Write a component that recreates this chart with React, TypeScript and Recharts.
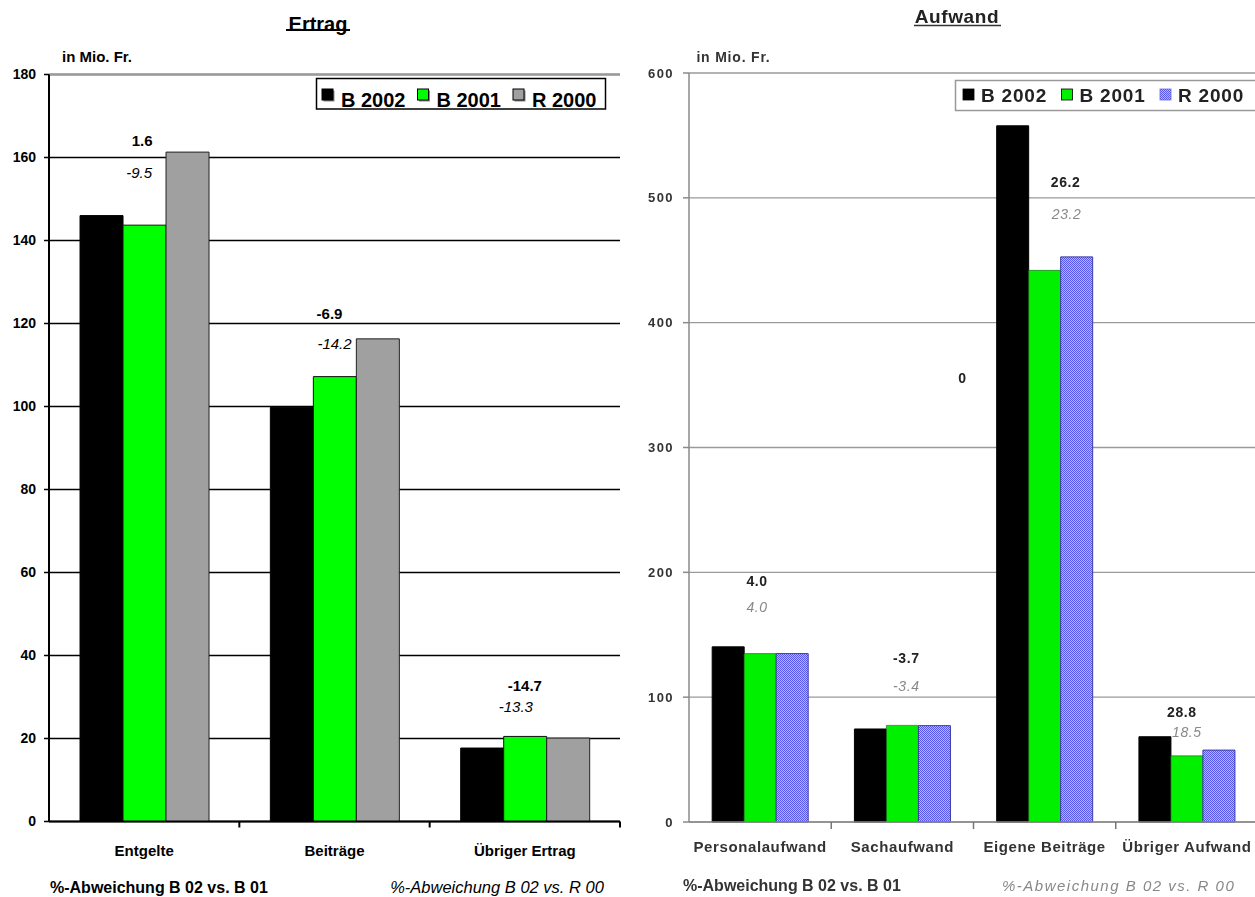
import React from 'react';
import { BarChart, Bar, XAxis, YAxis, CartesianGrid, ReferenceDot, ReferenceLine } from 'recharts';

const FONT = "'Liberation Sans', Arial, Helvetica, sans-serif";

// ---------- data: Ertrag (in Mio. Fr.) ----------
const ertragCategories = ['Entgelte', 'Beiträge', 'Übriger Ertrag'];
const ertragB2002 = [146.0, 99.8, 17.7];
const ertragB2001 = [143.7, 107.2, 20.5];
const ertragR2000 = [161.3, 116.3, 20.1];
const ertragVsB01 = ['1.6', '-6.9', '-14.7'];
const ertragVsR00 = ['-9.5', '-14.2', '-13.3'];
const ertragTicks = [0, 20, 40, 60, 80, 100, 120, 140, 160, 180];

// ---------- data: Aufwand (in Mio. Fr.) ----------
const aufwandCategories = ['Personalaufwand', 'Sachaufwand', 'Eigene Beiträge', 'Übriger Aufwand'];
const aufwandB2002 = [140.3, 74.5, 557.7, 68.3];
const aufwandB2001 = [134.9, 77.4, 441.9, 53.0];
const aufwandR2000 = [134.9, 77.2, 452.7, 57.6];
const aufwandVsB01 = ['4.0', '-3.7', '26.2', '28.8'];
const aufwandVsR00 = ['4.0', '-3.4', '23.2', '18.5'];
const aufwandTicks = [0, 100, 200, 300, 400, 500, 600];

const seriesNames = ['B 2002', 'B 2001', 'R 2000'];

// ---------- annotation placement (axis units / pixel nudges) ----------
const ertragNoteLevelB01 = [164.1, 122.5, 32.7];
const ertragNoteLevelR00 = [156.3, 115.1, 27.8];
const ertragNoteDxB01 = [-2, -5, 0];
const ertragNoteDxR00 = [-5, 0, -9];

const aufwandNoteLevelB01 = [193, 131.4, 513, 88.4];
const aufwandNoteLevelR00 = [172, 109, 487, 72.4];
const aufwandNoteDxB01 = [-3, 4, 21, -5];
const aufwandNoteDxR00 = [-3, 4, 22, 0];

// ---------- layout ----------
const PAGE_W = 1255;
const PAGE_H = 897;

const L_W = 630;
const L_PLOT_L = 49;
const L_PLOT_R = 620;
const L_PLOT_T = 74.5;
const L_PLOT_B = 821.5;
const L_YAXIS_W = 45;
const L_XAXIS_H = 40;
const L_BAND = (L_PLOT_R - L_PLOT_L) / ertragCategories.length;

const R_X = 630;
const R_W = 640;
const R_PLOT_L = 59;
const R_PLOT_R = 628;
const R_PLOT_T = 73;
const R_PLOT_B = 822;
const R_YAXIS_W = 50;
const R_XAXIS_H = 40;
const R_BAND = (R_PLOT_R - R_PLOT_L) / aufwandCategories.length;

const ertragRows = ertragCategories.map((cat, i) => ({
  cat,
  b2002: ertragB2002[i],
  b2001: ertragB2001[i],
  r2000: ertragR2000[i],
}));

const aufwandRows = aufwandCategories.map((cat, i) => ({
  cat,
  b2002: aufwandB2002[i],
  b2001: aufwandB2001[i],
  r2000: aufwandR2000[i],
}));

type TickCfg = {
  band: number;
  count: number;
  tickLen: number;
  tickStroke: string;
  tickWidth: number;
  baseline: number;
  style: React.CSSProperties;
};

// category label at band centre, tick marks at band boundaries
const categoryTick = (cfg: TickCfg) => (props: any) => {
  const { x, y, payload, index } = props;
  const h = cfg.band / 2;
  return (
    <g>
      {index > 0 && (
        <line x1={x - h} x2={x - h} y1={y} y2={y + cfg.tickLen} stroke={cfg.tickStroke} strokeWidth={cfg.tickWidth} />
      )}
      {index === cfg.count - 1 && (
        <line x1={x + h} x2={x + h} y1={y} y2={y + cfg.tickLen} stroke={cfg.tickStroke} strokeWidth={cfg.tickWidth} />
      )}
      <text x={x} y={y + cfg.baseline} textAnchor="middle" style={cfg.style}>
        {payload.value}
      </text>
    </g>
  );
};

const noteShape = (text: string, dx: number, style: React.CSSProperties) => (p: any) => (
  <text x={p.cx + dx} y={p.cy} textAnchor="middle" dominantBaseline="central" style={style}>
    {text}
  </text>
);

const ertragFill = ['#000000', '#00ff00', '#a0a0a0'];
const ertragStroke = ['#000000', '#111111', '#222222'];

const aufwandFill = ['#000000', '#00f000', 'url(#aufwandDots)'];
const aufwandStroke = ['#000000', '#1a5a1a', '#3a3aa0'];

function ErtragChart() {
  const boldNote: React.CSSProperties = { fontFamily: FONT, fontSize: 15, fontWeight: 700, fill: '#000' };
  const italNote: React.CSSProperties = { fontFamily: FONT, fontSize: 15, fontStyle: 'italic', fill: '#000' };
  return (
    <BarChart
      width={L_W}
      height={PAGE_H}
      data={ertragRows}
      barGap={0}
      barCategoryGap="16.3%"
      margin={{ top: L_PLOT_T, right: L_W - L_PLOT_R, bottom: PAGE_H - L_PLOT_B - L_XAXIS_H, left: L_PLOT_L - L_YAXIS_W }}
    >
      <CartesianGrid vertical={false} stroke="#000" strokeWidth={1.5} />
      <XAxis
        dataKey="cat"
        height={L_XAXIS_H}
        interval={0}
        tickLine={false}
        tickSize={0}
        tickMargin={0}
        axisLine={{ stroke: '#000', strokeWidth: 2 }}
        tick={categoryTick({
          band: L_BAND,
          count: ertragCategories.length,
          tickLen: 6,
          tickStroke: '#000',
          tickWidth: 2,
          baseline: 34,
          style: { fontFamily: FONT, fontSize: 15, fontWeight: 700, fill: '#000' },
        })}
      />
      <YAxis
        width={L_YAXIS_W}
        domain={[0, 180]}
        ticks={ertragTicks}
        interval={0}
        tickSize={5}
        tickMargin={8}
        axisLine={{ stroke: '#000', strokeWidth: 2 }}
        tickLine={{ stroke: '#000', strokeWidth: 1.5 }}
        tick={{ fontFamily: FONT, fontSize: 14, fontWeight: 700, fill: '#000' }}
      />
      <YAxis
        yAxisId="frame"
        orientation="right"
        width={0}
        domain={[0, 180]}
        tick={false}
        tickLine={false}
        axisLine={{ stroke: '#9a9a9a', strokeWidth: 2 }}
      />
      <ReferenceLine y={180} stroke="#9a9a9a" strokeWidth={2} />
      <Bar dataKey="b2002" name={seriesNames[0]} fill={ertragFill[0]} stroke={ertragStroke[0]} strokeWidth={1} isAnimationActive={false} />
      <Bar dataKey="b2001" name={seriesNames[1]} fill={ertragFill[1]} stroke={ertragStroke[1]} strokeWidth={1} isAnimationActive={false} />
      <Bar dataKey="r2000" name={seriesNames[2]} fill={ertragFill[2]} stroke={ertragStroke[2]} strokeWidth={1} isAnimationActive={false} />
      {ertragCategories.map((c, i) => (
        <ReferenceDot key={'b' + c} x={c} y={ertragNoteLevelB01[i]} r={0} shape={noteShape(ertragVsB01[i], ertragNoteDxB01[i], boldNote)} />
      ))}
      {ertragCategories.map((c, i) => (
        <ReferenceDot key={'r' + c} x={c} y={ertragNoteLevelR00[i]} r={0} shape={noteShape(ertragVsR00[i], ertragNoteDxR00[i], italNote)} />
      ))}
    </BarChart>
  );
}

function AufwandChart() {
  const boldNote: React.CSSProperties = { fontFamily: FONT, fontSize: 14, fontWeight: 700, fill: '#222', letterSpacing: 0.6 };
  const italNote: React.CSSProperties = { fontFamily: FONT, fontSize: 14, fontStyle: 'italic', fill: '#888', letterSpacing: 0.6 };
  return (
    <BarChart
      width={R_W}
      height={PAGE_H}
      data={aufwandRows}
      barGap={0}
      barCategoryGap="16.3%"
      margin={{ top: R_PLOT_T, right: R_W - R_PLOT_R, bottom: PAGE_H - R_PLOT_B - R_XAXIS_H, left: R_PLOT_L - R_YAXIS_W }}
    >
      <defs>
        <pattern id="aufwandDots" width="2" height="2" patternUnits="userSpaceOnUse">
          <rect width="2" height="2" fill="#b8b8ff" />
          <rect width="1" height="1" fill="#5656ee" />
          <rect x="1" y="1" width="1" height="1" fill="#5656ee" />
        </pattern>
      </defs>
      <CartesianGrid vertical={false} stroke="#9a9a9a" strokeWidth={1.3} />
      <XAxis
        dataKey="cat"
        height={R_XAXIS_H}
        interval={0}
        tickLine={false}
        tickSize={0}
        tickMargin={0}
        axisLine={{ stroke: '#8a8a8a', strokeWidth: 1.5 }}
        tick={categoryTick({
          band: R_BAND,
          count: aufwandCategories.length,
          tickLen: 7,
          tickStroke: '#777',
          tickWidth: 1.5,
          baseline: 30,
          style: { fontFamily: FONT, fontSize: 15, fontWeight: 700, fill: '#333', letterSpacing: 0.6 },
        })}
      />
      <YAxis
        width={R_YAXIS_W}
        domain={[0, 600]}
        ticks={aufwandTicks}
        interval={0}
        tickSize={6}
        tickMargin={9}
        axisLine={{ stroke: '#8a8a8a', strokeWidth: 1.5 }}
        tickLine={{ stroke: '#8a8a8a', strokeWidth: 1.5 }}
        tick={{ fontFamily: FONT, fontSize: 13, fontWeight: 700, fill: '#333', letterSpacing: 1.4 }}
      />
      <Bar dataKey="b2002" name={seriesNames[0]} fill={aufwandFill[0]} stroke={aufwandStroke[0]} strokeWidth={1} isAnimationActive={false} />
      <Bar dataKey="b2001" name={seriesNames[1]} fill={aufwandFill[1]} stroke={aufwandStroke[1]} strokeWidth={0.6} isAnimationActive={false} />
      <Bar dataKey="r2000" name={seriesNames[2]} fill={aufwandFill[2]} stroke={aufwandStroke[2]} strokeWidth={1} isAnimationActive={false} />
      {aufwandCategories.map((c, i) => (
        <ReferenceDot key={'b' + c} x={c} y={aufwandNoteLevelB01[i]} r={0} shape={noteShape(aufwandVsB01[i], aufwandNoteDxB01[i], boldNote)} />
      ))}
      {aufwandCategories.map((c, i) => (
        <ReferenceDot key={'r' + c} x={c} y={aufwandNoteLevelR00[i]} r={0} shape={noteShape(aufwandVsR00[i], aufwandNoteDxR00[i], italNote)} />
      ))}
      <ReferenceDot x={aufwandCategories[1]} y={355.8} r={0} shape={noteShape('0', 60, boldNote)} />
    </BarChart>
  );
}

function ErtragOverlay() {
  const pitch = 95.5;
  return (
    <svg width={L_W} height={PAGE_H} style={{ position: 'absolute', left: 0, top: 0, pointerEvents: 'none' }}>
      <text x={318} y={31} textAnchor="middle" style={{ fontFamily: FONT, fontSize: 20, fontWeight: 700 }} fill="#000">
        Ertrag
      </text>
      <line x1={286} x2={350} y1={30} y2={30} stroke="#000" strokeWidth={2} />
      <text x={97} y={62} textAnchor="middle" style={{ fontFamily: FONT, fontSize: 15, fontWeight: 700 }} fill="#000">
        in Mio. Fr.
      </text>
      <rect x={316.5} y={78.5} width={289} height={30.5} fill="#fff" stroke="#000" strokeWidth={1.5} />
      {seriesNames.map((name, i) => (
        <g key={name}>
          <rect x={323.5 + i * pitch} y={90.5} width={11} height={11} fill="#888" />
          <rect x={322 + i * pitch} y={89} width={11} height={11} fill={ertragFill[i]} stroke="#000" strokeWidth={1} />
          <text x={341 + i * pitch} y={107} style={{ fontFamily: FONT, fontSize: 20, fontWeight: 700 }} fill="#000">
            {name}
          </text>
        </g>
      ))}
      <text x={50} y={893} style={{ fontFamily: FONT, fontSize: 16, fontWeight: 700 }} fill="#000">
        %-Abweichung B 02 vs. B 01
      </text>
      <text x={497} y={893} textAnchor="middle" style={{ fontFamily: FONT, fontSize: 16.5, fontStyle: 'italic' }} fill="#000">
        %-Abweichung B 02 vs. R 00
      </text>
    </svg>
  );
}

function AufwandOverlay() {
  const pitch = 98.5;
  const ox = R_X;
  return (
    <svg width={R_W} height={PAGE_H} style={{ position: 'absolute', left: 0, top: 0, pointerEvents: 'none' }}>
      <defs>
        <pattern id="legendDots" width="2" height="2" patternUnits="userSpaceOnUse">
          <rect width="2" height="2" fill="#b8b8ff" />
          <rect width="1" height="1" fill="#5656ee" />
          <rect x="1" y="1" width="1" height="1" fill="#5656ee" />
        </pattern>
      </defs>
      <text x={957 - ox} y={23} textAnchor="middle" style={{ fontFamily: FONT, fontSize: 19, fontWeight: 700, letterSpacing: 0.6 }} fill="#222">
        Aufwand
      </text>
      <line x1={914 - ox} x2={1001 - ox} y1={25.5} y2={25.5} stroke="#333" strokeWidth={1.5} />
      <text x={733.5 - ox} y={62} textAnchor="middle" style={{ fontFamily: FONT, fontSize: 14, fontWeight: 700, letterSpacing: 0.8 }} fill="#333">
        in Mio. Fr.
      </text>
      <rect x={955.5 - ox} y={80.5} width={320} height={30} fill="#fff" stroke="#999" strokeWidth={1.5} />
      {seriesNames.map((name, i) => (
        <g key={name}>
          <rect
            x={963 - ox + i * pitch}
            y={89}
            width={11}
            height={11}
            fill={i === 2 ? 'url(#legendDots)' : aufwandFill[i]}
            stroke={i === 2 ? '#6a6ad0' : '#000'}
            strokeWidth={0.8}
          />
          <text x={981 - ox + i * pitch} y={102} style={{ fontFamily: FONT, fontSize: 19, fontWeight: 700, letterSpacing: 0.8 }} fill="#222">
            {name}
          </text>
        </g>
      ))}
      <text x={683 - ox} y={891} style={{ fontFamily: FONT, fontSize: 16, fontWeight: 700 }} fill="#333">
        %-Abweichung B 02 vs. B 01
      </text>
      <text x={1002 - ox} y={891} style={{ fontFamily: FONT, fontSize: 15, fontStyle: 'italic', letterSpacing: 1.5 }} fill="#888">
        %-Abweichung B 02 vs. R 00
      </text>
    </svg>
  );
}

export default function App() {
  return (
    <div
      style={{
        position: 'fixed',
        left: 0,
        top: 0,
        width: PAGE_W,
        height: PAGE_H,
        overflow: 'hidden',
        background: '#fff',
        fontFamily: FONT,
      }}
    >
      <div style={{ position: 'absolute', left: 0, top: 0, width: L_W, height: PAGE_H }}>
        <ErtragChart />
        <ErtragOverlay />
      </div>
      <div style={{ position: 'absolute', left: R_X, top: 0, width: R_W, height: PAGE_H, filter: 'blur(0.45px)' }}>
        <AufwandChart />
        <AufwandOverlay />
      </div>
    </div>
  );
}
